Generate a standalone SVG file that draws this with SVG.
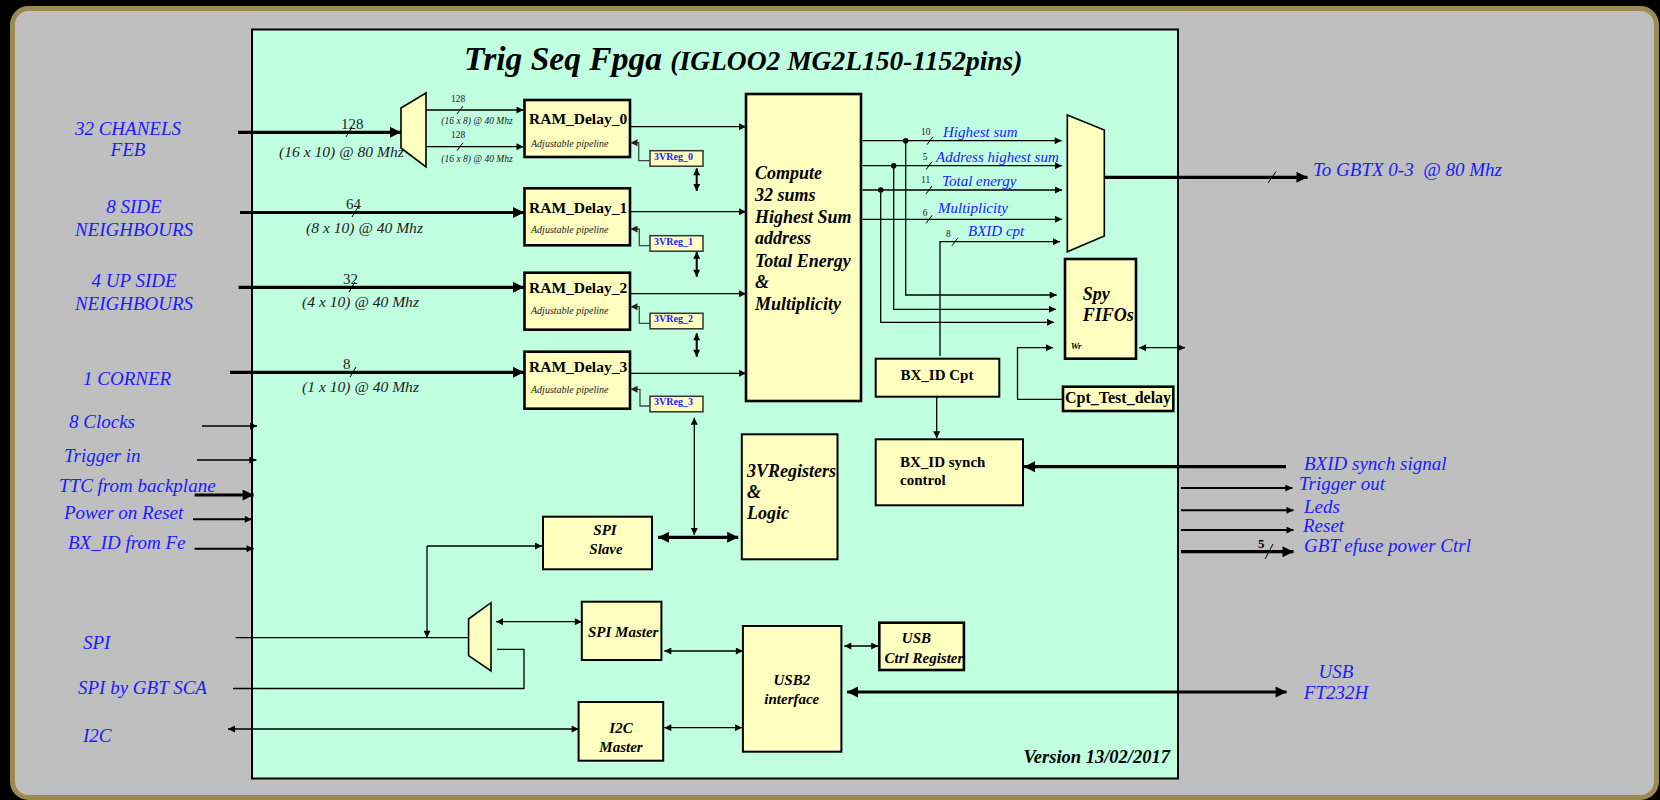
<svg xmlns="http://www.w3.org/2000/svg" width="1660" height="800" viewBox="0 0 1660 800">
<defs>
<marker id="a" viewBox="0 0 10 10" refX="10" refY="5" markerWidth="9" markerHeight="7" markerUnits="userSpaceOnUse" orient="auto-start-reverse"><path d="M0,0 L10,5 L0,10 z" fill="#000"/></marker>
<marker id="A" viewBox="0 0 10 10" refX="10" refY="5" markerWidth="13" markerHeight="11" markerUnits="userSpaceOnUse" orient="auto-start-reverse"><path d="M0,0 L10,5 L0,10 z" fill="#000"/></marker>
<marker id="g" viewBox="0 0 10 10" refX="10" refY="5" markerWidth="9" markerHeight="7" markerUnits="userSpaceOnUse" orient="auto-start-reverse"><path d="M0,0 L10,5 L0,10 z" fill="#222"/></marker>
</defs>
<style>
.box{fill:#ffffc0;stroke:#000;stroke-width:2}
.boxT{fill:#ffffc0;stroke:#000;stroke-width:2.6}
.reg{fill:#ffffc0;stroke:#333;stroke-width:1.5}
.mux{fill:#ffffc0;stroke:#000;stroke-width:1.6}
.lbl{font-family:"Liberation Serif",serif;font-style:italic;fill:#1a1aff;font-size:19px}
.olbl{font-family:"Liberation Serif",serif;font-style:italic;fill:#1a1aff;font-size:15px}
.bi{font-family:"Liberation Serif",serif;font-style:italic;font-weight:bold;fill:#000}
.b{font-family:"Liberation Serif",serif;font-weight:bold;fill:#000}
.it{font-family:"Liberation Serif",serif;font-style:italic;fill:#222}
.n{font-family:"Liberation Serif",serif;fill:#222}
.rg{font-family:"Liberation Serif",serif;font-weight:bold;fill:#1a1aff;font-size:10px}
.w1{stroke:#000;stroke-width:1.3;fill:none}
.w2{stroke:#000;stroke-width:2;fill:none}
.w3{stroke:#000;stroke-width:3.2;fill:none}
.gr{stroke:#444;stroke-width:1.3;fill:none}
.tk{stroke:#000;stroke-width:1}
</style>
<rect x="0" y="0" width="1660" height="800" fill="#000"/>
<rect x="12.5" y="8.5" width="1644" height="789" rx="16" fill="#bfbfbf" stroke="#9b8b50" stroke-width="5"/>
<g id="fpga">
<rect x="252" y="29.5" width="926" height="749" fill="#c0ffe0" stroke="#000" stroke-width="2"/>
<text class="bi" x="464" y="70" font-size="33.5">Trig Seq Fpga <tspan font-size="27.5">(IGLOO2 MG2L150-1152pins)</tspan></text>
<text class="bi" x="1170" y="762.7" font-size="18.5" text-anchor="end">Version 13/02/2017</text>
</g>
<g id="inputs-left">
<text class="lbl" x="128" y="135" text-anchor="middle">32 CHANELS</text>
<text class="lbl" x="128" y="156" text-anchor="middle">FEB</text>
<text class="lbl" x="134" y="213" text-anchor="middle">8 SIDE</text>
<text class="lbl" x="134" y="236" text-anchor="middle">NEIGHBOURS</text>
<text class="lbl" x="134" y="287" text-anchor="middle">4 UP SIDE</text>
<text class="lbl" x="134" y="310" text-anchor="middle">NEIGHBOURS</text>
<text class="lbl" x="83" y="385">1 CORNER</text>
<text class="lbl" x="69" y="428">8 Clocks</text>
<text class="lbl" x="64" y="462">Trigger in</text>
<text class="lbl" x="59" y="492">TTC from backplane</text>
<text class="lbl" x="64" y="519">Power on Reset</text>
<text class="lbl" x="68" y="549">BX_ID from Fe</text>
<text class="lbl" x="83" y="649">SPI</text>
<text class="lbl" x="78" y="694">SPI by GBT SCA</text>
<text class="lbl" x="83" y="742">I2C</text>
</g>
<g id="outputs-right">
<text class="lbl" x="1313" y="176" font-size="19.3">To GBTX 0-3 &#160;@ 80 Mhz</text>
<text class="lbl" x="1304" y="470">BXID synch signal</text>
<text class="lbl" x="1299" y="490">Trigger out</text>
<text class="lbl" x="1304" y="513">Leds</text>
<text class="lbl" x="1303" y="532">Reset</text>
<text class="lbl" x="1304" y="552">GBT efuse power Ctrl</text>
<text class="lbl" x="1336" y="678" text-anchor="middle">USB</text>
<text class="lbl" x="1336" y="699" text-anchor="middle">FT232H</text>
</g>
<g id="demux-in">
<polygon class="mux" points="401,108 426,93 426,167 401,148"/>
</g>
<g id="ram-delay-0">
<rect class="boxT" x="524.5" y="100" width="105.5" height="57"/>
<text class="b" x="529" y="124" font-size="15.5">RAM_Delay_0</text>
<text class="it" x="531" y="146.7" font-size="10">Adjustable pipeline</text>
</g>
<g id="ram-delay-1">
<rect class="boxT" x="524.5" y="188.3" width="105.5" height="57"/>
<text class="b" x="529" y="213.3" font-size="15.5">RAM_Delay_1</text>
<text class="it" x="531" y="232.7" font-size="10">Adjustable pipeline</text>
</g>
<g id="ram-delay-2">
<rect class="boxT" x="524.5" y="272.7" width="105.5" height="57"/>
<text class="b" x="529" y="293.3" font-size="15.5">RAM_Delay_2</text>
<text class="it" x="531" y="314.3" font-size="10">Adjustable pipeline</text>
</g>
<g id="ram-delay-3">
<rect class="boxT" x="524.5" y="351.7" width="105.5" height="57"/>
<text class="b" x="529" y="371.7" font-size="15.5">RAM_Delay_3</text>
<text class="it" x="531" y="392.7" font-size="10">Adjustable pipeline</text>
</g>
<g id="reg-0"><rect class="reg" x="650" y="150.7" width="53" height="15.5"/><text class="rg" x="654" y="159.5">3VReg_0</text></g>
<g id="reg-1"><rect class="reg" x="650" y="235.7" width="53" height="15.5"/><text class="rg" x="654" y="244.5">3VReg_1</text></g>
<g id="reg-2"><rect class="reg" x="650" y="313.3" width="53" height="15.5"/><text class="rg" x="654" y="322.1">3VReg_2</text></g>
<g id="reg-3"><rect class="reg" x="650" y="396.3" width="53" height="15.5"/><text class="rg" x="654" y="405.1">3VReg_3</text></g>
<g id="compute">
<rect class="boxT" x="746" y="94" width="115" height="307"/>
<g class="bi" font-size="18">
<text x="755" y="179">Compute</text>
<text x="755" y="201">32 sums</text>
<text x="755" y="223">Highest Sum</text>
<text x="755" y="244">address</text>
<text x="755" y="266.5">Total Energy</text>
<text x="755" y="287.5">&amp;</text>
<text x="755" y="310">Multiplicity</text>
</g>
</g>
<g id="mux-out">
<polygon class="mux" points="1067.3,115 1104.3,130 1104.3,236 1067.3,251.7"/>
</g>
<g id="spy-fifos">
<rect class="boxT" x="1065" y="259" width="71" height="99.7"/>
<text class="bi" x="1082.7" y="300" font-size="18">Spy</text>
<text class="bi" x="1082.7" y="320.7" font-size="18">FIFOs</text>
<text class="bi" x="1070.7" y="348.7" font-size="9">Wr</text>
</g>
<g id="cpt-test-delay">
<rect class="boxT" x="1063" y="386.7" width="110.3" height="24.3"/>
<text class="b" x="1065" y="403.3" font-size="16">Cpt_Test_delay</text>
</g>
<g id="bxid-cpt">
<rect class="box" x="875.7" y="358.7" width="123.6" height="38"/>
<text class="b" x="937" y="380" font-size="15" text-anchor="middle">BX_ID Cpt</text>
</g>
<g id="bxid-synch">
<rect class="box" x="875.7" y="439.3" width="147.3" height="66"/>
<text class="b" x="900" y="467.3" font-size="15">BX_ID synch</text>
<text class="b" x="900" y="485" font-size="15">control</text>
</g>
<g id="registers-logic">
<rect class="box" x="741.8" y="434.3" width="95.7" height="125"/>
<text class="bi" x="747" y="476.7" font-size="18">3VRegisters</text>
<text class="bi" x="747" y="498.3" font-size="18">&amp;</text>
<text class="bi" x="747" y="519.3" font-size="18">Logic</text>
</g>
<g id="spi-slave">
<rect class="box" x="543" y="516.7" width="109" height="52.6"/>
<text class="bi" x="605" y="535" font-size="15" text-anchor="middle">SPI</text>
<text class="bi" x="606" y="554" font-size="15" text-anchor="middle">Slave</text>
</g>
<g id="spi-mux">
<polygon class="mux" points="468.6,619 491,602.7 491,671 468.6,655.7"/>
</g>
<g id="spi-master">
<rect class="box" x="581.8" y="601.7" width="79.6" height="58.3"/>
<text class="bi" x="588" y="636.7" font-size="15">SPI Master</text>
</g>
<g id="usb2-interface">
<rect class="box" x="742.9" y="626" width="98.5" height="125.7"/>
<text class="bi" x="791.8" y="685" font-size="15" text-anchor="middle">USB2</text>
<text class="bi" x="791.8" y="704" font-size="15" text-anchor="middle">interface</text>
</g>
<g id="usb-ctrl-register">
<rect class="boxT" x="879.3" y="622.7" width="84.6" height="47.3"/>
<text class="bi" x="901.8" y="643.3" font-size="15">USB</text>
<text class="bi" x="884.6" y="662.7" font-size="15">Ctrl Register</text>
</g>
<g id="i2c-master">
<rect class="box" x="578.6" y="702" width="84.6" height="58.7"/>
<text class="bi" x="621" y="733.3" font-size="15" text-anchor="middle">I2C</text>
<text class="bi" x="621" y="751.7" font-size="15" text-anchor="middle">Master</text>
</g>
<g id="connectors">
<path class="w3" d="M238,132.3 H401" marker-end="url(#A)"/>
<path class="w3" d="M240,212.5 H524" marker-end="url(#A)"/>
<path class="w3" d="M238.6,287.3 H524" marker-end="url(#A)"/>
<path class="w3" d="M230,372.3 H524" marker-end="url(#A)"/>
<path class="tk" d="M346,137 L352,127 M352,217 L358,207 M349,292 L355,282 M350,377 L356,367"/>
<text class="n" x="341" y="129" font-size="15">128</text>
<text class="n" x="346" y="209" font-size="15">64</text>
<text class="n" x="343" y="284" font-size="15">32</text>
<text class="n" x="343" y="369" font-size="15">8</text>
<text class="it" x="279" y="157" font-size="15.6">(16 x 10) @ 80 Mhz</text>
<text class="it" x="306" y="233" font-size="15.6">(8 x 10) @ 40 Mhz</text>
<text class="it" x="302" y="307" font-size="15.6">(4 x 10) @ 40 Mhz</text>
<text class="it" x="302" y="392" font-size="15.6">(1 x 10) @ 40 Mhz</text>
<path class="w1" d="M426,110 H523.5" marker-end="url(#a)"/>
<path class="w1" d="M426,146.7 H523.5" marker-end="url(#a)"/>
<path class="tk" d="M457,114 L463,106 M457,150.7 L463,142.7"/>
<text class="n" x="458" y="101.7" font-size="9.5" text-anchor="middle">128</text>
<text class="n" x="458" y="138" font-size="9.5" text-anchor="middle">128</text>
<text class="it" x="477" y="124.3" font-size="9.5" text-anchor="middle">(16 x 8) @ 40 Mhz</text>
<text class="it" x="477" y="161.7" font-size="9.5" text-anchor="middle">(16 x 8) @ 40 Mhz</text>
<path class="w1" d="M630,126.7 H746" marker-end="url(#a)"/>
<path class="w1" d="M630,211.7 H746" marker-end="url(#a)"/>
<path class="w1" d="M630,293.7 H746" marker-end="url(#a)"/>
<path class="w1" d="M630,373.3 H746" marker-end="url(#a)"/>
<path class="gr" d="M650,160.7 H638.7 V142.7 H630.5" marker-end="url(#g)"/>
<path class="gr" d="M650,245.7 H639.3 V229 H630.5" marker-end="url(#g)"/>
<path class="gr" d="M650,323.3 H639.3 V306.7 H630.5" marker-end="url(#g)"/>
<path class="gr" d="M650,406 H640 V389.3 H630.5" marker-end="url(#g)"/>
<path class="w2" d="M696.7,168.3 V191" marker-start="url(#a)" marker-end="url(#a)"/>
<path class="w2" d="M696.7,251.7 V276.7" marker-start="url(#a)" marker-end="url(#a)"/>
<path class="w2" d="M696.7,333.3 V356.7" marker-start="url(#a)" marker-end="url(#a)"/>
<path class="w1" d="M694.3,417.7 V535" marker-start="url(#a)" marker-end="url(#a)"/>
<path class="w3" d="M658,537.3 H738.2" marker-start="url(#A)" marker-end="url(#A)"/>
<path class="w1" d="M862.7,140.7 H1061.7" marker-end="url(#a)"/>
<path class="w1" d="M862.7,165.7 H1062" marker-end="url(#a)"/>
<path class="w1" d="M862.7,190 H1062" marker-end="url(#a)"/>
<path class="w1" d="M862.7,219.3 H1062" marker-end="url(#a)"/>
<path class="w1" d="M940,356 V241.7 H1060" marker-end="url(#a)"/>
<path class="w1" d="M905.7,140.7 V295 H1056.7" marker-end="url(#a)"/>
<path class="w1" d="M893.7,165.7 V309.3 H1056" marker-end="url(#a)"/>
<path class="w1" d="M880.7,190 V322.3 H1054" marker-end="url(#a)"/>
<circle cx="905.7" cy="140.7" r="2.8"/>
<circle cx="893.7" cy="165.7" r="2.8"/>
<circle cx="880.7" cy="190" r="2.8"/>
<path class="tk" d="M927,144.7 L933,136.7 M926,169.7 L932,161.7 M926,194 L932,186 M926,223.3 L932,215.3 M952,245.7 L958,237.7"/>
<text class="n" x="921" y="135" font-size="9.5">10</text>
<text class="n" x="922.7" y="160" font-size="9.5">5</text>
<text class="n" x="921" y="183.3" font-size="9.5">11</text>
<text class="n" x="922.7" y="216" font-size="9.5">6</text>
<text class="n" x="946" y="236.7" font-size="9.5">8</text>
<text class="olbl" x="943" y="136.7">Highest sum</text>
<text class="olbl" x="936" y="161.7">Address highest sum</text>
<text class="olbl" x="942" y="186">Total energy</text>
<text class="olbl" x="938" y="213.3">Multiplicity</text>
<text class="olbl" x="968" y="236">BXID cpt</text>
<path class="w3" d="M1104.3,177.3 H1307.5" marker-end="url(#A)"/>
<path class="tk" d="M1268,183 L1276,171.5"/>
<path class="w1" d="M1139,347.7 H1185" marker-start="url(#a)" marker-end="url(#a)"/>
<path class="w1" d="M1063,399.3 H1017.5 V347.7 H1053" marker-end="url(#a)"/>
<path class="w1" d="M936.7,396.7 V438.3" marker-end="url(#a)"/>
<path class="w3" d="M1286,466.7 H1024" marker-end="url(#A)"/>
<path class="w2" d="M1181,488 H1292.4" marker-end="url(#a)"/>
<path class="w2" d="M1181,510.3 H1293.5" marker-end="url(#a)"/>
<path class="w2" d="M1181,530 H1293.5" marker-end="url(#a)"/>
<path class="w3" d="M1181,551.7 H1293.5" marker-end="url(#A)"/>
<path class="tk" d="M1265,559 L1273,544"/>
<text class="b" x="1258" y="548" font-size="13">5</text>
<path class="w1" d="M202,426 H257" marker-end="url(#a)"/>
<path class="w1" d="M197,460 H256.4" marker-end="url(#a)"/>
<path class="w3" d="M194.6,495 H253.6" marker-end="url(#A)"/>
<path class="w2" d="M193,519.3 H251.8" marker-end="url(#a)"/>
<path class="w2" d="M194.6,548.7 H253.6" marker-end="url(#a)"/>
<path class="w1" d="M427,546 H542" marker-end="url(#a)"/>
<path class="w1" d="M427,546 V637.7" marker-end="url(#a)"/>
<path class="w1" d="M235.7,637.7 H468.6"/>
<path class="w1" d="M233,688.5 H524 V649.3 H497"/>
<path class="w1" d="M496,621.7 H581.8" marker-start="url(#a)" marker-end="url(#a)"/>
<path class="w1" d="M664.3,651 H742.9" marker-start="url(#a)" marker-end="url(#a)"/>
<path class="w1" d="M844.3,646 H878.2" marker-start="url(#a)" marker-end="url(#a)"/>
<path class="w3" d="M847,692 H1286.6" stroke-width="4" marker-start="url(#A)" marker-end="url(#A)"/>
<path class="w1" d="M228,729 H578.6" marker-start="url(#a)" marker-end="url(#a)"/>
<path class="w1" d="M664.3,727.7 H742.1" marker-start="url(#a)" marker-end="url(#a)"/>
</g>
</svg>
